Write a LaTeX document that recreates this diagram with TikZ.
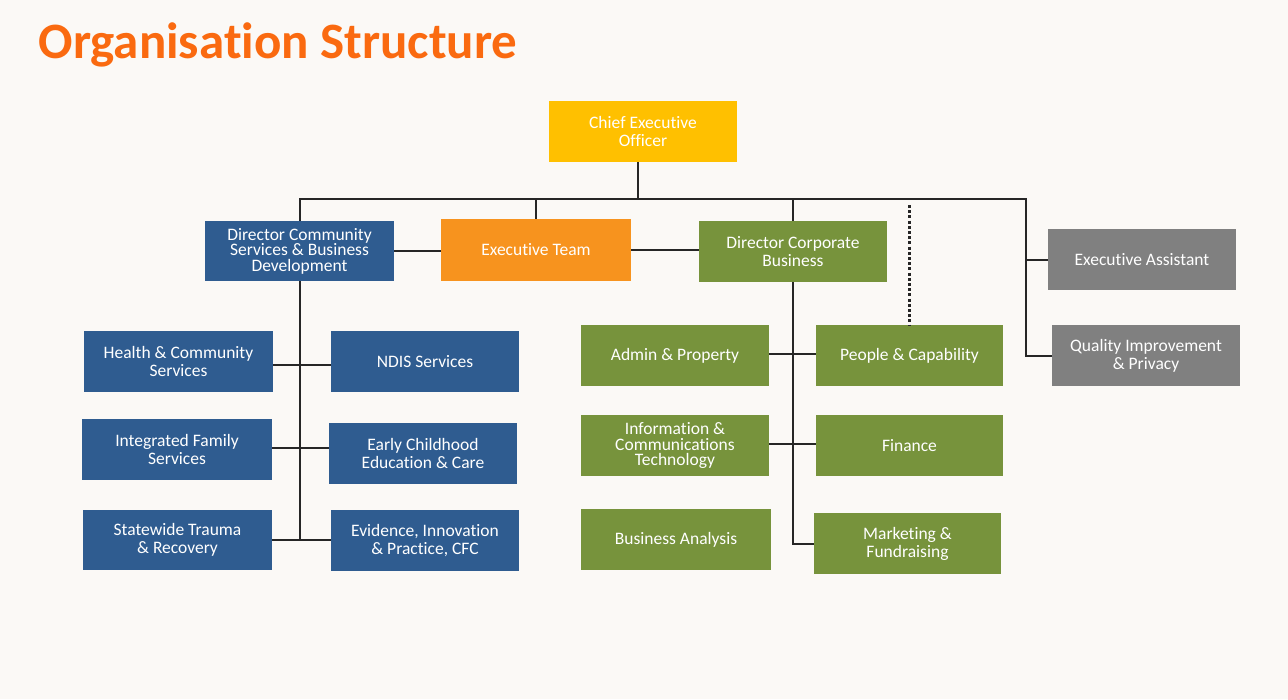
\documentclass[tikz,border=0pt]{standalone}
\usepackage{fontspec}
\setmainfont{Carlito}[Ligatures={NoCommon}]
\definecolor{bgc}{HTML}{FBF9F6}
\definecolor{ttl}{HTML}{FA6A10}
\definecolor{cblue}{HTML}{2F5C90}
\definecolor{cgreen}{HTML}{77933C}
\definecolor{cgray}{HTML}{808080}
\definecolor{cyel}{HTML}{FFC000}
\definecolor{corg}{HTML}{F7931E}
\definecolor{lnc}{HTML}{262626}
\begin{document}
\begin{tikzpicture}[x=1pt,y=-1pt,
  box/.style={rectangle, inner sep=0pt, minimum width=188pt, minimum height=61pt,
    text=white, align=center, font=\fontsize{17.5}{18}\selectfont},
  tri/.style={font=\fontsize{17.5}{15.5}\selectfont},
  conn/.style={draw=lnc, line width=2pt},
  dotc/.style={draw=lnc, line width=2.4pt, dash pattern=on 3pt off 2.2pt}]
\useasboundingbox[fill=bgc] (0,0) rectangle (1288,699);
\node[anchor=base west, text=ttl, font=\fontsize{51}{51}\selectfont\bfseries] (title) at (35,58) {Organisation Structure};
% top
\node[box, fill=cyel] (ceo) at (643,131.5) {Chief Executive\\Officer};
\node[box, fill=cblue, tri, minimum width=189pt, minimum height=60pt] (dcs) at (299.5,251) {Director Community\\Services \& Business\\Development};
\node[box, fill=corg, minimum width=190pt, minimum height=62pt] (et) at (536,250) {Executive Team};
\node[box, fill=cgreen] (dcb) at (793,251.5) {Director Corporate\\Business};
\node[box, fill=cgray] (ea) at (1142,259.5) {Executive Assistant};
\node[box, fill=cgray] (qip) at (1146,355.5) {Quality Improvement\\\& Privacy};
% left group
\node[box, fill=cblue, minimum width=189pt] (hcs) at (178.5,361.5) {Health \& Community\\Services};
\node[box, fill=cblue] (ndis) at (425,361.5) {NDIS Services};
\node[box, fill=cblue, minimum width=190pt] (ifs) at (177,449.5) {Integrated Family\\Services};
\node[box, fill=cblue] (ece) at (423,453.5) {Early Childhood\\Education \& Care};
\node[box, fill=cblue, minimum width=189pt, minimum height=60pt] (str) at (177.5,540) {Statewide Trauma\\\& Recovery};
\node[box, fill=cblue] (eip) at (425,540.5) {Evidence, Innovation\\\& Practice, CFC};
% right group
\node[box, fill=cgreen] (ap) at (675,355.5) {Admin \& Property};
\node[box, fill=cgreen, minimum width=187pt] (pc) at (909.5,355.5) {People \& Capability};
\node[box, fill=cgreen, tri] (ict) at (675,445.5) {Information \&\\Communications\\Technology};
\node[box, fill=cgreen, minimum width=187pt] (fin) at (909.5,445.5) {Finance};
\node[box, fill=cgreen, minimum width=190pt] (ba) at (676,539.5) {Business Analysis};
\node[box, fill=cgreen, minimum width=187pt] (mf) at (907.5,543.5) {Marketing \&\\Fundraising};
% bus coordinates
\coordinate (bus) at (638,199);
\coordinate (busR) at (1026,199);
\coordinate (dtop) at (909.5,205);
% connectors
\draw[conn] ([xshift=-5pt]ceo.south) -- (bus);
\draw[conn] (dcs.north) |- (busR) -- (busR |- qip.west) -- (qip.west);
\draw[conn] (busR |- ea.west) -- (ea.west);
\draw[conn] (et.north) -- (et.north |- bus);
\draw[conn] (dcb.north) -- (dcb.north |- bus);
\draw[conn] (dcs.east) -- (dcs.east -| et.west);
\draw[conn] (et.east) -- (et.east -| dcb.west);
\draw[dotc] (dtop) -- (pc.north);
% left spine
\draw[conn] (dcs.south) -- (dcs.south |- str.east);
\draw[conn] ([yshift=-3pt]hcs.east) -- ([yshift=-3pt]hcs.east -| ndis.west);
\draw[conn] ([yshift=1.5pt]ifs.east) -- ([yshift=1.5pt]ifs.east -| ece.west);
\draw[conn] (str.east) -- (str.east -| eip.west);
% right spine
\draw[conn] (dcb.south) |- (mf.west);
\draw[conn] ([yshift=1.5pt]ap.east) -- ([yshift=1.5pt]ap.east -| pc.west);
\draw[conn] ([yshift=1.5pt]ict.east) -- ([yshift=1.5pt]ict.east -| fin.west);
\end{tikzpicture}
\end{document}
